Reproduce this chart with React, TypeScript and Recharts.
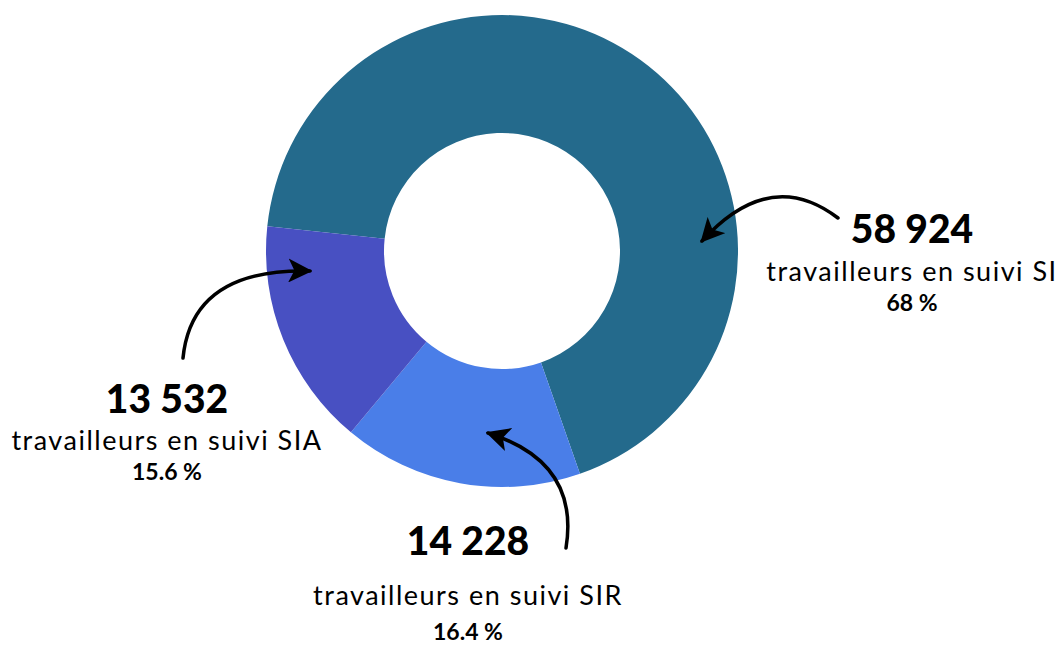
import { PieChart, Pie, Cell } from "recharts";

const SEGMENTS = ["SI", "SIR", "SIA"];
const WORKERS = [58924, 14228, 13532];
const SHARES = ["68 %", "16.4 %", "15.6 %"];
const COLORS = ["#246A8C", "#4A7EE8", "#4850C2"];

const data = SEGMENTS.map((s, i) => ({ name: s, value: WORKERS[i], share: SHARES[i] }));

// annotation placement, offsets from the pie centre
const TEXT_POS = [
  { x: 410, y: [-8, 30, 60] },
  { x: -34, y: [304, 354, 389] },
  { x: -335, y: [162, 199, 229] },
];
const ARROWS = [
  "M336,-33 Q268,-85 200,-10",
  "M64,297 Q78,211 -14,182",
  "M-319,107 Q-310,17 -192,20",
];

const FONT = "Lato, 'Open Sans', sans-serif";

function fmtNum(v: number) {
  return v.toLocaleString("fr-FR").replace(/\u202f|\u00a0/g, " ");
}

function Annotation(props: any) {
  const { cx, cy, index, payload } = props;
  const pos = TEXT_POS[index];
  const id = `arrowhead-${index}`;
  const tx = cx + pos.x;
  return (
    <g>
      <defs>
        <marker id={id} viewBox="0 0 10 10" refX="9" refY="5" markerWidth="24" markerHeight="24"
          markerUnits="userSpaceOnUse" orient="auto">
          <path d="M0,0 L10,5 L0,10 L2.5,5 Z" fill="#000" />
        </marker>
      </defs>
      <path d={ARROWS[index]} transform={`translate(${cx},${cy})`} fill="none" stroke="#000"
        strokeWidth={3.5} strokeLinecap="round" markerEnd={`url(#${id})`} />
      <text x={tx} y={cy + pos.y[0]} textAnchor="middle" fontFamily={FONT} fontWeight={900}
        fontSize={39} fill="#000">
        {fmtNum(payload.value)}
      </text>
      <text x={tx} y={cy + pos.y[1]} textAnchor="middle" fontFamily={FONT} fontSize={27}
        letterSpacing={1.5} fill="#000">
        {`travailleurs en suivi ${payload.name}`}
      </text>
      <text x={tx} y={cy + pos.y[2]} textAnchor="middle" fontFamily={FONT} fontWeight={700}
        fontSize={23} fill="#000">
        {payload.share}
      </text>
    </g>
  );
}

export default function App() {
  return (
    <div style={{ position: "absolute", left: 0, top: 0, width: 1064, height: 646, background: "#fff" }}>
      <PieChart width={1064} height={646} margin={{ top: 0, right: 0, bottom: 0, left: 0 }}>
        <Pie
          data={data}
          dataKey="value"
          nameKey="name"
          cx={502}
          cy={251}
          innerRadius={118}
          outerRadius={236}
          startAngle={174}
          endAngle={-186}
          stroke="none"
          labelLine={false}
          label={Annotation}
          isAnimationActive={false}
        >
          {data.map((d, i) => (
            <Cell key={d.name} fill={COLORS[i]} />
          ))}
        </Pie>
      </PieChart>
    </div>
  );
}
